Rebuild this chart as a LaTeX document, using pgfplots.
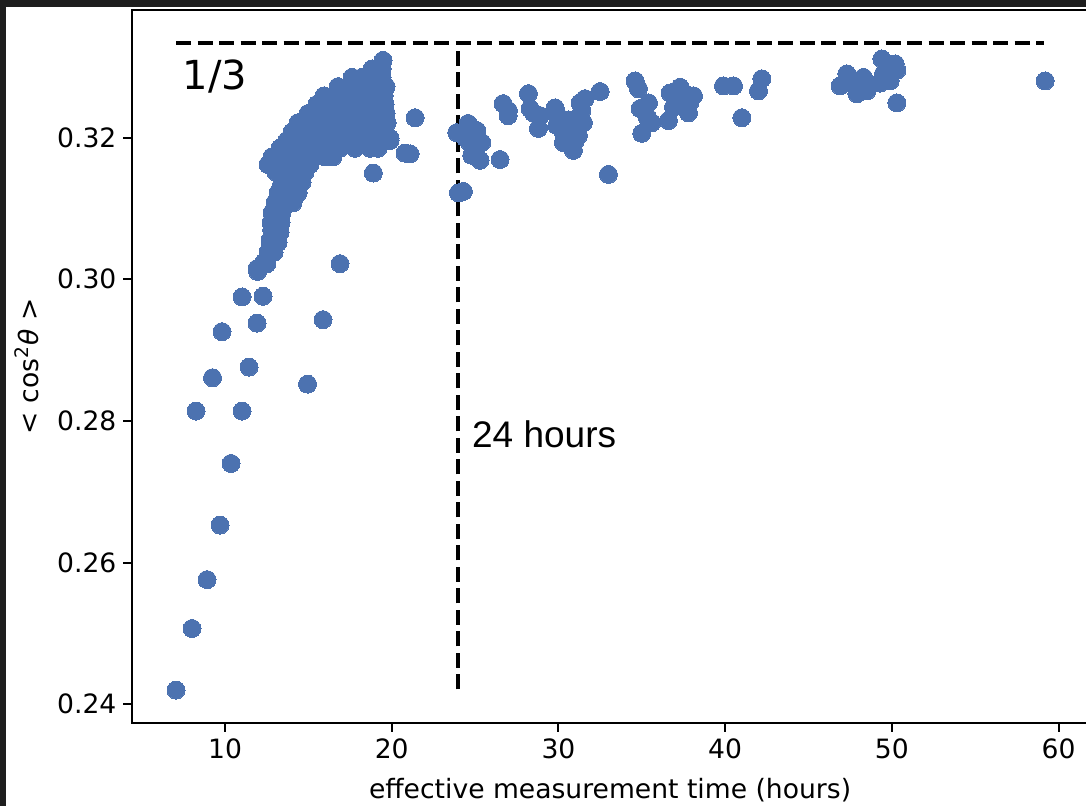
\documentclass[border=0pt]{standalone}
\usepackage{fontspec}
\setmainfont{DejaVu Sans}
\newfontfamily\arialfont{Liberation Sans}
\usepackage{pgfplots}
\pgfplotsset{compat=1.18}
\definecolor{sblue}{HTML}{4C72B0}
\definecolor{darkbg}{HTML}{1E1E1E}
\begin{document}
\begin{tikzpicture}
\path[use as bounding box] (-66.25pt,-41.65pt) rectangle (476.75pt,361.35pt);
\fill[darkbg] (-66.25pt,-41.65pt) rectangle (-63.25pt,361.35pt);
\fill[darkbg] (-66.25pt,357.85pt) rectangle (476.75pt,361.35pt);
\begin{axis}[
  anchor=south west, at={(0pt,0pt)},
  scale only axis, width=477.6pt, height=356.3pt,
  xmin=4.45, xmax=61.75, ymin=0.2374, ymax=0.3380,
  axis line style={line width=1pt, black},
  tick align=outside, tick pos=left,
  major tick length=4.5pt,
  every tick/.style={black, line width=1pt},
  xtick={10,20,30,40,50,60},
  ytick={0.24,0.26,0.28,0.30,0.32},
  scaled y ticks=false,
  /pgf/number format/assume math mode=true,
  tick label style={font=\fontsize{13.3}{16}\selectfont},
  yticklabel style={/pgf/number format/.cd, fixed, fixed zerofill, precision=2},
  xlabel={effective measurement time (hours)},
  ylabel={\textless{} cos\textsuperscript{2}{\itshape θ} \textgreater},
  label style={font=\fontsize{13.3}{16}\selectfont},
  xlabel style={at={(axis description cs:0.5,-0.0946)}, anchor=center},
  ylabel style={at={(axis description cs:-0.1105,0.5)}, anchor=center},
  clip=false,
]
\addplot[only marks, mark=*, mark size=4.5pt, color=sblue, mark options={fill=sblue, draw=sblue, line width=0pt}] coordinates {
(7.06,0.2420) (8.02,0.2507) (8.92,0.2576) (9.70,0.2653) (10.36,0.2740)
(8.26,0.2814) (11.02,0.2814) (9.25,0.2861) (11.44,0.2876) (14.95,0.2852)
(9.82,0.2926) (11.92,0.2938) (15.88,0.2943) (11.02,0.2975) (12.28,0.2976)
(16.90,0.3022) (11.95,0.3011) (12.50,0.3022) (12.75,0.3036) (12.82,0.3046)
(12.70,0.3055) (12.80,0.3069) (12.78,0.3080) (12.90,0.3094) (13.00,0.3108)
(13.20,0.3122) (14.20,0.3118) (13.40,0.3135) (12.70,0.3165) (13.30,0.3175)
(18.90,0.3150) (21.40,0.3228) (21.10,0.3177) (20.80,0.3178) (19.90,0.3199)
(19.48,0.3309)
(18.82,0.3297) (19.42,0.3297)
(17.62,0.3285) (18.22,0.3285) (18.82,0.3285) (19.42,0.3285)
(16.78,0.3272) (17.38,0.3272) (17.98,0.3272) (18.58,0.3272) (19.18,0.3272) (19.66,0.3272)
(15.94,0.3259) (16.54,0.3259) (17.14,0.3259) (17.74,0.3259) (18.34,0.3259) (18.94,0.3259) (19.54,0.3259)
(15.52,0.3247) (16.12,0.3247) (16.72,0.3247) (17.32,0.3247) (17.92,0.3247) (18.52,0.3247) (19.12,0.3247) (19.60,0.3247)
(14.98,0.3234) (15.58,0.3234) (16.18,0.3234) (16.78,0.3234) (17.38,0.3234) (17.98,0.3234) (18.58,0.3234) (19.18,0.3234) (19.66,0.3234)
(14.38,0.3221) (14.98,0.3221) (15.58,0.3221) (16.18,0.3221) (16.78,0.3221) (17.38,0.3221) (17.98,0.3221) (18.58,0.3221) (19.18,0.3221) (19.72,0.3221)
(14.02,0.3208) (14.62,0.3208) (15.22,0.3208) (15.82,0.3208) (16.42,0.3208) (17.02,0.3208) (17.62,0.3208) (18.22,0.3208) (18.82,0.3208) (19.42,0.3208)
(13.72,0.3196) (14.32,0.3196) (14.92,0.3196) (15.52,0.3196) (16.12,0.3196) (16.72,0.3196) (17.32,0.3196) (17.92,0.3196) (18.52,0.3196) (19.12,0.3196) (19.90,0.3196)
(13.30,0.3185) (13.90,0.3185) (14.50,0.3185) (15.10,0.3185) (15.70,0.3185) (16.30,0.3185) (16.90,0.3185) (17.80,0.3185) (18.70,0.3185) (19.18,0.3185)
(12.82,0.3173) (13.54,0.3173) (14.20,0.3173) (14.80,0.3173) (15.40,0.3173) (16.00,0.3173) (16.48,0.3173)
(12.58,0.3162) (13.18,0.3162) (13.90,0.3162) (14.50,0.3162) (15.10,0.3162)
(13.06,0.3151) (13.66,0.3151) (14.26,0.3151) (14.80,0.3151)
(13.42,0.3137) (14.02,0.3137) (14.62,0.3137)
(13.18,0.3122) (13.78,0.3122) (14.38,0.3122)
(13.00,0.3108) (13.60,0.3108) (14.08,0.3108)
(12.82,0.3094) (13.42,0.3094)
(12.76,0.3080) (13.36,0.3080)
(12.82,0.3066) (13.30,0.3066)
(12.70,0.3052) (13.18,0.3052)
(12.58,0.3038) (12.94,0.3038)
(12.34,0.3024) (11.92,0.3015)
(24.00,0.3122) (24.30,0.3124) (23.90,0.3207) (24.58,0.3220) (25.10,0.3210)
(25.40,0.3193) (24.70,0.3192) (24.80,0.3175) (25.30,0.3168) (24.40,0.3200)
(24.90,0.3185) (25.00,0.3198) (26.50,0.3169)
(26.68,0.3248) (26.98,0.3231) (27.00,0.3238)
(28.20,0.3262) (28.30,0.3241) (28.90,0.3231) (28.80,0.3213) (28.50,0.3235)
(29.80,0.3242) (29.90,0.3217) (30.30,0.3207) (30.30,0.3193) (30.90,0.3182) (30.00,0.3230) (30.60,0.3225)
(31.30,0.3249) (31.40,0.3238) (31.50,0.3221) (31.20,0.3203) (30.70,0.3214) (31.00,0.3195) (31.60,0.3255)
(32.50,0.3265) (33.00,0.3148)
(34.60,0.3280) (34.80,0.3269) (34.90,0.3241) (35.40,0.3249) (35.00,0.3206) (35.60,0.3221) (35.30,0.3230)
(36.70,0.3263) (37.30,0.3271) (36.60,0.3224) (36.90,0.3243) (37.80,0.3235) (38.10,0.3259) (37.60,0.3262) (37.90,0.3250)
(39.90,0.3273) (40.50,0.3273) (41.00,0.3228) (42.20,0.3283) (42.00,0.3266)
(47.30,0.3290) (46.90,0.3273) (47.90,0.3262) (48.30,0.3285) (48.50,0.3266) (47.60,0.3278) (48.00,0.3275)
(49.40,0.3311) (50.20,0.3304) (50.30,0.3295) (49.90,0.3280) (49.30,0.3277) (49.50,0.3290) (50.00,0.3300)
(50.30,0.3249) (59.20,0.3280)
};
\addplot[black, line width=2pt, dash pattern=on 7.5pt off 3.25pt] coordinates {(7.06,0.333333) (59.1,0.333333)};
\addplot[black, line width=2pt, dash pattern=on 7.5pt off 3.25pt] coordinates {(24,0.2421) (24,0.333333)};
\node[anchor=base west, inner sep=0pt, font=\fontsize{20}{24}\selectfont] at (axis cs:7.45,0.3268) {1/3};
\node[anchor=base west, inner sep=0pt, font=\arialfont\fontsize{18.5}{22}\selectfont] at (axis cs:24.8,0.27626) {24 hours};
\end{axis}
\end{tikzpicture}
\end{document}
